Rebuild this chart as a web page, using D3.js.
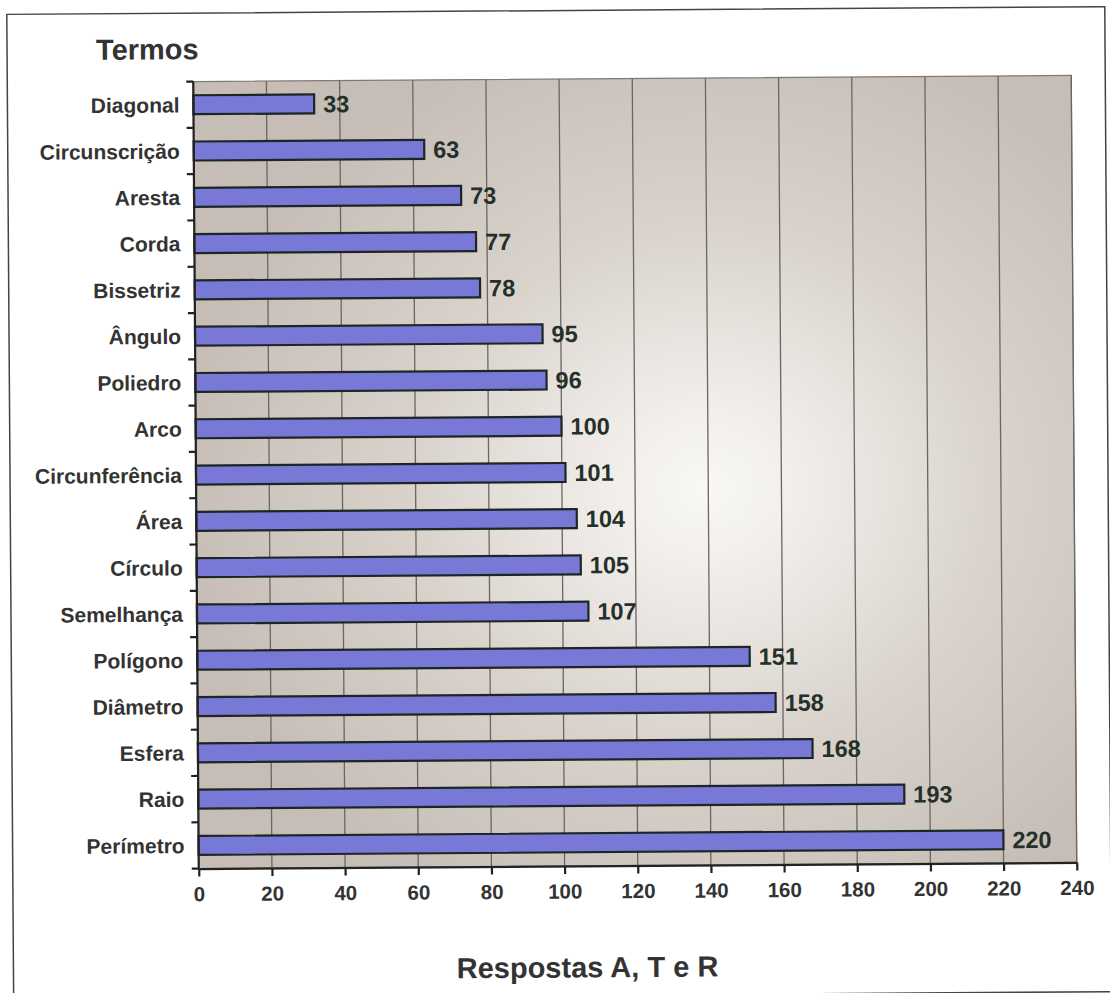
<!DOCTYPE html>
<html>
<head>
<meta charset="utf-8">
<script src="https://cdn.jsdelivr.net/npm/d3@7"></script>
<style>
  body { margin: 0; background: #fff; }
  svg { display: block; font-family: "Liberation Sans", Arial, sans-serif; }
</style>
</head>
<body>
<script>
(function(){

    //chart data, top to bottom
    var termos = ["Diagonal", "Circunscrição", "Aresta", "Corda", "Bissetriz", "Ângulo",
        "Poliedro", "Arco", "Circunferência", "Área", "Círculo", "Semelhança",
        "Polígono", "Diâmetro", "Esfera", "Raio", "Perímetro"];
    var respostas = [33, 63, 73, 77, 78, 95, 96, 100, 101, 104, 105, 107, 151, 158, 168, 193, 220];
    var xTicks = [0, 20, 40, 60, 80, 100, 120, 140, 160, 180, 200, 220, 240];

    //page frame
    var width = 1110,
        height = 993;

    var plot = {left: 196, right: 1074, top: 78.5, bottom: 865.5};

    var svg = d3.select("body")
        .append("svg")
        .attr("width", width)
        .attr("height", height);

    //background gradient for the plot area
    var defs = svg.append("defs");
    var grad = defs.append("radialGradient")
        .attr("id", "bg")
        .attr("cx", "0.58").attr("cy", "0.52")
        .attr("r", "0.6");
    grad.append("stop").attr("offset", "0").attr("stop-color", "#f9f8f6");
    grad.append("stop").attr("offset", "0.18").attr("stop-color", "#f1eeea");
    grad.append("stop").attr("offset", "0.55").attr("stop-color", "#d9d3cc");
    grad.append("stop").attr("offset", "1").attr("stop-color", "#c6beb6");

    //the scan is slightly tilted
    var g = svg.append("g")
        .attr("transform", "rotate(-0.4, 635, 472)");

    //outer frame
    g.append("rect")
        .attr("x", 10).attr("y", 10)
        .attr("width", 1098).attr("height", 985)
        .attr("fill", "none")
        .attr("stroke", "#444")
        .attr("stroke-width", 1.5);

    var x = d3.scaleLinear()
        .domain([0, 240])
        .range([plot.left, plot.right]);

    var y = d3.scaleBand()
        .domain(termos)
        .range([plot.top, plot.bottom])
        .paddingInner(0.59)
        .paddingOuter(0.295);

    //plot background
    g.append("rect")
        .attr("x", plot.left).attr("y", plot.top)
        .attr("width", plot.right - plot.left)
        .attr("height", plot.bottom - plot.top)
        .attr("fill", "url(#bg)")
        .attr("stroke", "#807a75")
        .attr("stroke-width", 1.2);

    //vertical gridlines
    g.selectAll(".grid")
        .data(xTicks.slice(1))
        .enter()
        .append("line")
        .attr("class", "grid")
        .attr("x1", function(d){ return x(d); })
        .attr("x2", function(d){ return x(d); })
        .attr("y1", plot.top)
        .attr("y2", plot.bottom)
        .attr("stroke", "#6b6662")
        .attr("stroke-width", 1.3);

    //bars
    g.selectAll(".bar")
        .data(respostas)
        .enter()
        .append("rect")
        .attr("class", "bar")
        .attr("x", x(0))
        .attr("y", function(d, i){ return y(termos[i]); })
        .attr("width", function(d){ return x(d) - x(0); })
        .attr("height", y.bandwidth())
        .attr("fill", "#7878d7")
        .attr("stroke", "#1d2624")
        .attr("stroke-width", 2.2);

    //value labels
    g.selectAll(".val")
        .data(respostas)
        .enter()
        .append("text")
        .attr("class", "val")
        .attr("x", function(d){ return x(d) + 9; })
        .attr("y", function(d, i){ return y(termos[i]) + y.bandwidth() / 2; })
        .attr("dy", "0.36em")
        .attr("font-size", 23.5)
        .attr("font-weight", "bold")
        .attr("fill", "#25302a")
        .text(function(d){ return d; });

    //x axis
    var xAxis = g.append("g")
        .attr("transform", "translate(0," + plot.bottom + ")")
        .call(d3.axisBottom(x).tickValues(xTicks).tickSize(8).tickPadding(10).tickSizeOuter(0));
    xAxis.select(".domain").attr("stroke", "#222").attr("stroke-width", 2.2);
    xAxis.selectAll(".tick line").attr("stroke", "#222").attr("stroke-width", 2.2);
    xAxis.selectAll(".tick text")
        .attr("font-size", 20.5)
        .attr("font-weight", "bold")
        .attr("font-family", "Liberation Sans, Arial, sans-serif")
        .attr("fill", "#333");

    //y axis: ticks sit between categories
    var yAxis = g.append("g")
        .attr("transform", "translate(" + plot.left + ",0)");
    yAxis.append("line")
        .attr("x1", 0).attr("x2", 0)
        .attr("y1", plot.top).attr("y2", plot.bottom)
        .attr("stroke", "#222").attr("stroke-width", 2.2);
    yAxis.selectAll(".ytick")
        .data(d3.range(termos.length + 1))
        .enter()
        .append("line")
        .attr("class", "ytick")
        .attr("x1", -7).attr("x2", 0)
        .attr("y1", function(i){ return plot.top + i * (plot.bottom - plot.top) / termos.length; })
        .attr("y2", function(i){ return plot.top + i * (plot.bottom - plot.top) / termos.length; })
        .attr("stroke", "#222").attr("stroke-width", 2.2);
    yAxis.selectAll(".ylab")
        .data(termos)
        .enter()
        .append("text")
        .attr("class", "ylab")
        .attr("x", -14)
        .attr("y", function(d){ return y(d) + y.bandwidth() / 2; })
        .attr("dy", "0.36em")
        .attr("text-anchor", "end")
        .attr("font-size", 21)
        .attr("font-weight", "bold")
        .attr("fill", "#333")
        .text(function(d){ return d; });

    //axis titles
    g.append("text")
        .attr("x", 99).attr("y", 56)
        .attr("font-size", 29)
        .attr("font-weight", "bold")
        .attr("fill", "#333")
        .text("Termos");

    g.append("text")
        .attr("x", 584).attr("y", 977)
        .attr("text-anchor", "middle")
        .attr("font-size", 29)
        .attr("font-weight", "bold")
        .attr("fill", "#333")
        .text("Respostas A, T e R");

})();
</script>
</body>
</html>
